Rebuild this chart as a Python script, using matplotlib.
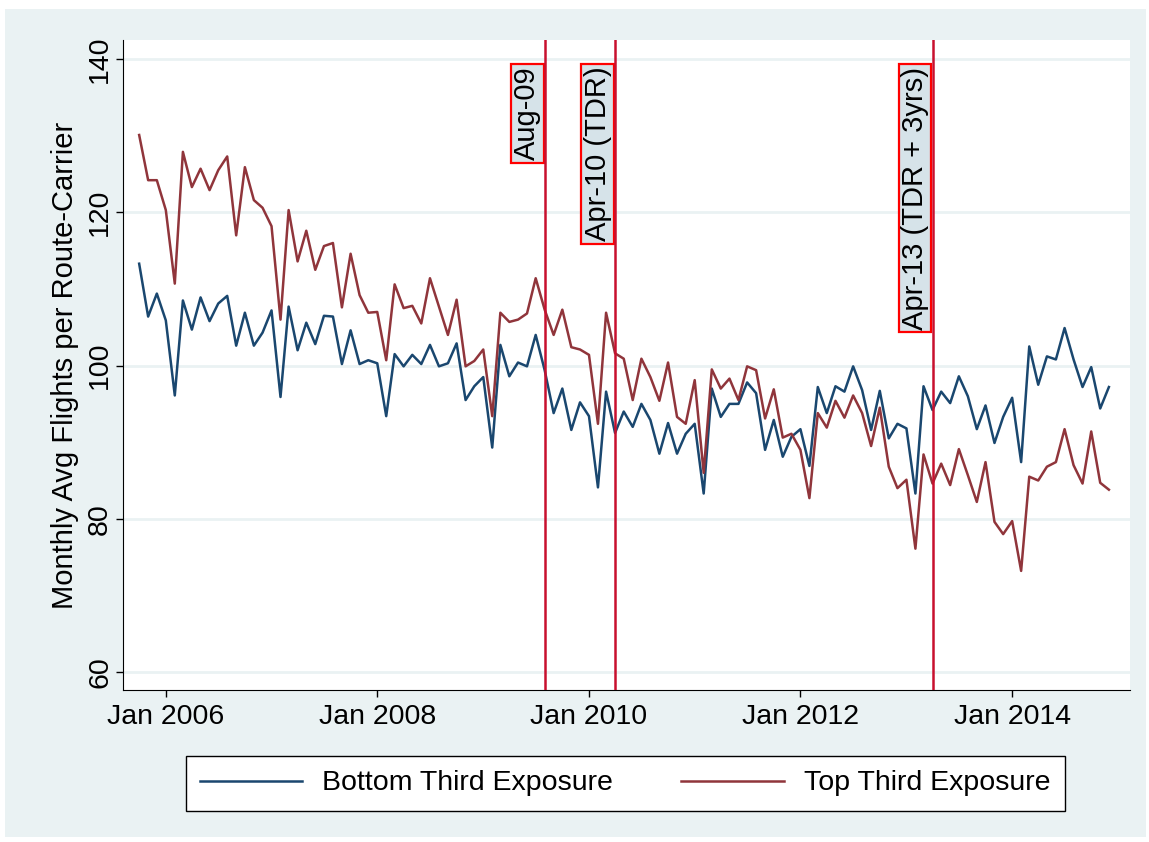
import matplotlib
matplotlib.use("Agg")
import matplotlib.pyplot as plt
from matplotlib.patches import Rectangle
import pandas as pd

plt.rcParams['font.family'] = ['Liberation Sans', 'DejaVu Sans']

# monthly series, Oct 2005 - Dec 2014
months = pd.date_range("2005-10-01", "2014-12-01", freq="MS")

bottom_third = [113.3, 106.4, 109.4, 105.9, 96.1, 108.5, 104.7, 108.9, 105.8, 108.1,
                109.1, 102.6, 106.9, 102.6, 104.3, 107.2, 95.9, 107.7, 102.0, 105.6,
                102.8, 106.5, 106.4, 100.2, 104.6, 100.2, 100.7, 100.3, 93.4, 101.5,
                99.9, 101.4, 100.2, 102.7, 99.9, 100.3, 102.9, 95.5, 97.3, 98.5,
                89.3, 102.7, 98.6, 100.4, 99.9, 104.0, 99.4, 93.8, 97.0, 91.6,
                95.2, 93.4, 84.1, 96.6, 91.2, 94.0, 92.0, 95.0, 92.9, 88.5,
                92.5, 88.5, 91.1, 92.4, 83.3, 97.0, 93.3, 95.0, 95.0, 97.8,
                96.4, 89.0, 92.9, 88.1, 90.7, 91.7, 86.9, 97.2, 93.8, 97.3,
                96.6, 99.9, 96.8, 91.6, 96.7, 90.5, 92.4, 91.8, 83.3, 97.3,
                94.2, 96.6, 95.1, 98.6, 96.0, 91.7, 94.8, 89.9, 93.3, 95.8,
                87.4, 102.5, 97.5, 101.2, 100.8, 104.9, 100.8, 97.2, 99.8, 94.4,
                97.2]

top_third = [130.1, 124.2, 124.2, 120.3, 110.7, 127.9, 123.3, 125.7, 122.9, 125.5,
             127.3, 117.0, 125.9, 121.6, 120.6, 118.2, 106.0, 120.3, 113.6, 117.6,
             112.5, 115.6, 116.0, 107.6, 114.6, 109.2, 106.9, 107.0, 100.7, 110.6,
             107.5, 107.8, 105.5, 111.4, 107.7, 104.0, 108.6, 99.9, 100.6, 102.1,
             93.4, 106.9, 105.7, 106.0, 106.8, 111.4, 107.3, 104.0, 107.3, 102.4,
             102.1, 101.4, 92.4, 106.9, 101.6, 100.9, 95.5, 100.9, 98.5, 95.4,
             100.4, 93.3, 92.4, 98.1, 86.0, 99.5, 97.0, 98.3, 95.5, 99.9,
             99.4, 93.1, 96.9, 90.6, 91.1, 89.0, 82.7, 93.8, 91.9, 95.4,
             93.2, 96.1, 93.8, 89.5, 94.5, 86.8, 84.0, 85.1, 76.1, 88.4,
             84.6, 87.2, 84.4, 89.1, 85.7, 82.2, 87.4, 79.6, 78.0, 79.7,
             73.2, 85.5, 85.0, 86.8, 87.4, 91.7, 87.0, 84.6, 91.4, 84.7,
             83.8]

event_dates = ["2009-08-01", "2010-04-01", "2013-04-01"]
event_labels = ["Aug-09", "Apr-10 (TDR)", "Apr-13 (TDR + 3yrs)"]

xtick_dates = ["2006-01-01", "2008-01-01", "2010-01-01", "2012-01-01", "2014-01-01"]
xtick_labels = ["Jan 2006", "Jan 2008", "Jan 2010", "Jan 2012", "Jan 2014"]
ytick_values = [60, 80, 100, 120, 140]

BG = '#EAF2F3'
BLUE = '#1a476f'
RED = '#90353b'
VLINE = '#c8102e'

fig = plt.figure(figsize=(11.49, 8.42), dpi=100)
fig.patch.set_facecolor('white')
fig.patches.append(Rectangle((0.004, 0.006), 0.993, 0.983, transform=fig.transFigure,
                             facecolor=BG, edgecolor='none', zorder=-10))

ax = fig.add_axes([0.107, 0.1805, 0.8765, 0.772])
ax.set_facecolor('white')

ax.plot(months, bottom_third, color=BLUE, lw=1.8, label='Bottom Third Exposure', zorder=3)
ax.plot(months, top_third, color=RED, lw=1.8, label='Top Third Exposure', zorder=3)

for d, lab in zip(event_dates, event_labels):
    d = pd.Timestamp(d)
    ax.axvline(d, color=VLINE, lw=1.8, zorder=5)
    ax.annotate(lab, xy=(d, 139.0), xytext=(-2.5, 0), textcoords='offset points',
                rotation=90, ha='right', va='top', fontsize=21, zorder=4,
                bbox=dict(boxstyle='square,pad=0.08', facecolor='#d6e3e9',
                          edgecolor='#ff0000', lw=1.6))

ax.set_xlim(pd.Timestamp("2005-08-06"), pd.Timestamp("2015-02-12"))
ax.set_ylim(57.65, 142.5)

ax.set_xticks([pd.Timestamp(d) for d in xtick_dates])
ax.set_xticklabels(xtick_labels, fontsize=20.5)
ax.set_yticks(ytick_values)
ax.set_yticklabels([str(v) for v in ytick_values], fontsize=20.5, rotation=90, va='center')
ax.tick_params(axis='both', length=5, width=1, color='black')
ax.tick_params(axis='x', pad=5)
ax.tick_params(axis='y', pad=2)

ax.set_axisbelow(True)
ax.yaxis.grid(True, color=BG, lw=2)

for s in ['top', 'right']:
    ax.spines[s].set_visible(False)
ax.spines['left'].set_color('black')
ax.spines['bottom'].set_color('black')

ax.set_ylabel("Monthly Avg Flights per Route-Carrier", fontsize=21, labelpad=6)

fig.legend(loc='center', bbox_to_anchor=(0.544, 0.0695), ncol=2, fontsize=20.5,
           handlelength=3.6, columnspacing=2.4, handletextpad=0.7, borderpad=0.5,
           fancybox=False, edgecolor='black', framealpha=1)

fig.savefig("out.png", dpi=100, facecolor=fig.get_facecolor())
